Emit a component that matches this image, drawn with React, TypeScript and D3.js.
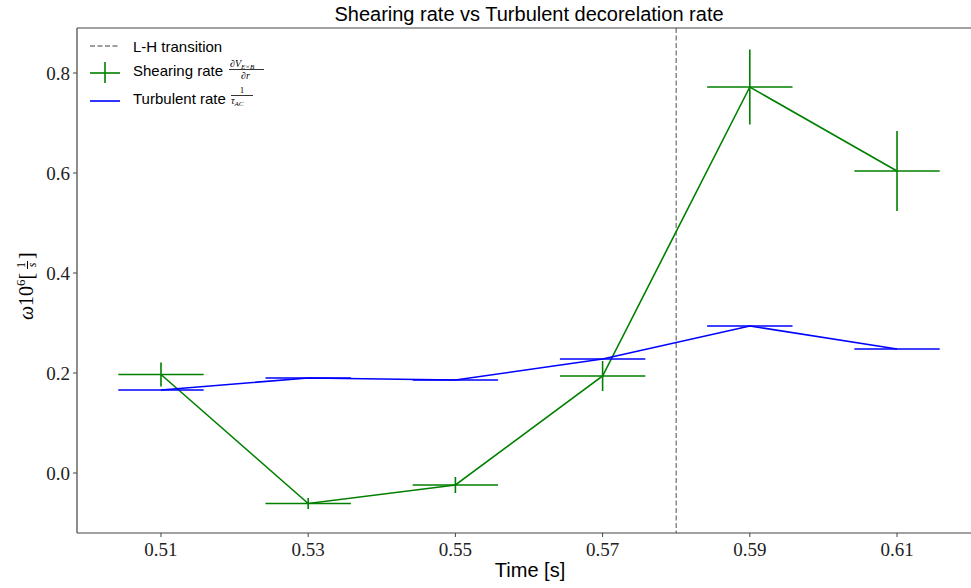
import React from "react";
import * as d3 from "d3";

const times = [0.51, 0.53, 0.55, 0.57, 0.59, 0.61];
const shearing = [0.197, -0.061, -0.024, 0.194, 0.772, 0.604];
const shearingErr = [0.024, 0.011, 0.016, 0.03, 0.075, 0.08];
const turbulent = [0.166, 0.19, 0.186, 0.228, 0.294, 0.248];
const turbulentErr = [0.0, 0.0, 0.0, 0.0, 0.0, 0.0];
const timeErr = 0.0058;
const transitionTime = 0.58;
const xTicks = [0.51, 0.53, 0.55, 0.57, 0.59, 0.61];
const yTicks = [0.0, 0.2, 0.4, 0.6, 0.8];

const W = 971;
const H = 588;
const left = 77;
const right = 981;
const top = 28;
const bottom = 533;

export default function App() {
  const x = d3.scaleLinear().domain([0.49859, 0.62141]).range([left, right]);
  const y = d3.scaleLinear().domain([-0.12, 0.89]).range([bottom, top]);
  const line = d3
    .line<[number, number]>()
    .x((d) => x(d[0]))
    .y((d) => y(d[1]));

  const series = [
    { vals: shearing, err: shearingErr, color: "#008000" },
    { vals: turbulent, err: turbulentErr, color: "#0000ff" },
  ];

  const serif = "'Liberation Serif', 'DejaVu Serif', serif";
  const sans = "'Liberation Sans', Arial, sans-serif";

  return (
    <svg
      width={W}
      height={H}
      style={{ position: "absolute", left: 0, top: 0, background: "#fff" }}
    >
      <defs>
        <clipPath id="plot">
          <rect x={left} y={top} width={right - left} height={bottom - top} />
        </clipPath>
      </defs>
      <rect x={0} y={0} width={W} height={H} fill="#fff" />
      <g clipPath="url(#plot)">
        <line
          x1={x(transitionTime)}
          x2={x(transitionTime)}
          y1={top}
          y2={bottom}
          stroke="#808080"
          strokeWidth={1.4}
          strokeDasharray="5,2.5"
        />
        {series.map((s, si) => (
          <g key={si}>
            <path
              d={line(times.map((t, i) => [t, s.vals[i]]))!}
              fill="none"
              stroke={s.color}
              strokeWidth={1.6}
            />
            {times.map((t, i) => (
              <g key={i}>
                <line
                  x1={x(t - timeErr)}
                  x2={x(t + timeErr)}
                  y1={y(s.vals[i])}
                  y2={y(s.vals[i])}
                  stroke={s.color}
                  strokeWidth={1.6}
                />
                {s.err[i] > 0 && (
                  <line
                    x1={x(t)}
                    x2={x(t)}
                    y1={y(s.vals[i] - s.err[i])}
                    y2={y(s.vals[i] + s.err[i])}
                    stroke={s.color}
                    strokeWidth={1.6}
                  />
                )}
              </g>
            ))}
          </g>
        ))}
      </g>
      {/* spines */}
      <line x1={left} x2={left} y1={top} y2={bottom} stroke="#444" strokeWidth={1.2} />
      <line x1={left} x2={right} y1={bottom} y2={bottom} stroke="#444" strokeWidth={1.2} />
      <line x1={left} x2={right} y1={top} y2={top} stroke="#444" strokeWidth={1.2} />
      <line x1={right} x2={right} y1={top} y2={bottom} stroke="#444" strokeWidth={1.2} />
      {/* x ticks */}
      {xTicks.map((t) => (
        <g key={t}>
          <line x1={x(t)} x2={x(t)} y1={bottom} y2={bottom + 4} stroke="#444" strokeWidth={1} />
          <text
            x={x(t)}
            y={bottom + 23}
            textAnchor="middle"
            fontFamily={serif}
            fontSize={19}
            fill="#222"
          >
            {t.toFixed(2)}
          </text>
        </g>
      ))}
      {/* y ticks */}
      {yTicks.map((t) => (
        <g key={t}>
          <line x1={left - 4} x2={left} y1={y(t)} y2={y(t)} stroke="#444" strokeWidth={1} />
          <text
            x={left - 7}
            y={y(t) + 7}
            textAnchor="end"
            fontFamily={serif}
            fontSize={19}
            fill="#222"
          >
            {t.toFixed(1)}
          </text>
        </g>
      ))}
      {/* title */}
      <text x={529} y={21} textAnchor="middle" fontFamily={sans} fontSize={20} fill="#000">
        Shearing rate vs Turbulent decorelation rate
      </text>
      {/* x label */}
      <text x={530} y={577} textAnchor="middle" fontFamily={sans} fontSize={20} fill="#000">
        Time [s]
      </text>
      {/* y label */}
      <g transform="translate(33,320) rotate(-90)" fontFamily={serif} fill="#000">
        <text x={0} y={0} fontSize={20}>
          <tspan fontStyle="italic">ω</tspan>10
          <tspan fontSize={13} dy={-8}>6</tspan>
          <tspan fontSize={20} dy={8}>[</tspan>
        </text>
        <text x={55} y={-8} fontSize={12} textAnchor="middle">1</text>
        <line x1={51} x2={59} y1={-5.5} y2={-5.5} stroke="#000" strokeWidth={1} />
        <text x={55} y={3} fontSize={12} textAnchor="middle" fontStyle="italic">s</text>
        <text x={61} y={0} fontSize={20}>]</text>
      </g>
      {/* legend */}
      <g fontFamily={sans} fontSize={15} fill="#000">
        <line x1={90} x2={120} y1={46} y2={46} stroke="#808080" strokeWidth={1.4} strokeDasharray="5,2.5" />
        <text x={133} y={52}>L-H transition</text>

        <line x1={90} x2={120} y1={73} y2={73} stroke="#008000" strokeWidth={1.6} />
        <line x1={105} x2={105} y1={62} y2={83} stroke="#008000" strokeWidth={1.6} />
        <text x={133} y={76}>Shearing rate</text>
        <g fontFamily={serif} fontStyle="italic">
          <text x={230} y={67} fontSize={10}>
            ∂V<tspan fontSize={7} dy={2}>E×B</tspan>
          </text>
          <line x1={229} x2={264} y1={69.5} y2={69.5} stroke="#000" strokeWidth={0.8} />
          <text x={241} y={79} fontSize={10}>∂r</text>
        </g>

        <line x1={90} x2={120} y1={101} y2={101} stroke="#0000ff" strokeWidth={1.6} />
        <text x={133} y={104}>Turbulent rate</text>
        <g fontFamily={serif}>
          <text x={242} y={93} fontSize={9} textAnchor="middle">1</text>
          <line x1={231} x2={253} y1={95.5} y2={95.5} stroke="#000" strokeWidth={0.8} />
          <text x={231} y={104} fontSize={10} fontStyle="italic">
            τ<tspan fontSize={7} dy={1.5}>AC</tspan>
          </text>
        </g>
      </g>
    </svg>
  );
}
